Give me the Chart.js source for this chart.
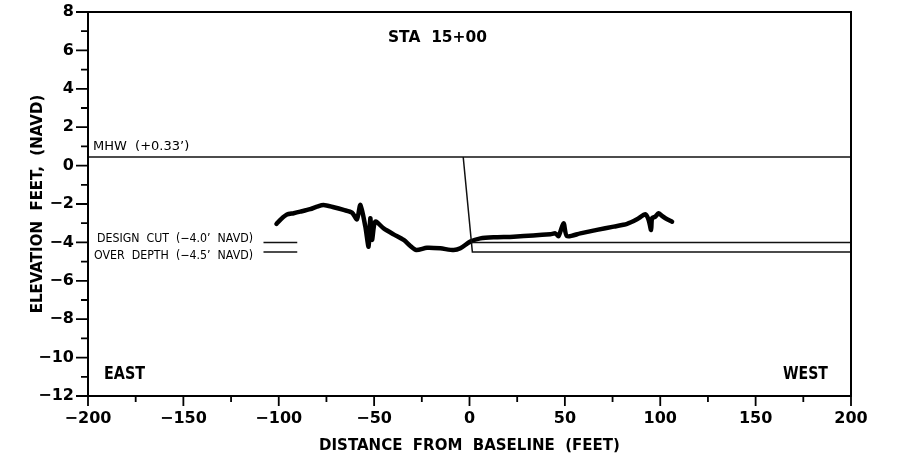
<!DOCTYPE html>
<html lang="en">
<head>
<meta charset="UTF-8" />
<title>STA 15+00 Profile</title>
<style>
  html, body { margin: 0; padding: 0; background: #fff; }
  .wrap { width: 902px; height: 461px; }
</style>
</head>
<body>
<div class="wrap"><canvas id="profileChart" width="902" height="461"></canvas></div>

<script src="https://cdn.jsdelivr.net/npm/chart.js"></script>
<script>
  // Surveyed profile (distance from baseline, elevation ft NAVD)
  const profileX = [-101.2, -98.8, -95.7, -92.2, -88.7, -83.5, -80, -76.5, -71.2, -66, -61.6, -59, -57.2, -54.6, -52.9, -52, -51.1, -49.4, -45, -39.8, -34.5, -31, -27.9, -22.3, -15.3, -8.3, -4.8, 0.4, 5.7, 12.6, 23.1, 42.4, 45, 46.7, 49.3, 51.1, 58.1, 66.8, 75.6, 82.6, 87.8, 92.2, 93.9, 95.2, 95.7, 97.4, 99.1, 100.9, 102.7, 106.2];
  const profileY = [-3.04, -2.79, -2.55, -2.48, -2.40, -2.27, -2.14, -2.05, -2.17, -2.31, -2.45, -2.80, -2.05, -3.18, -4.22, -2.74, -3.87, -2.92, -3.27, -3.58, -3.87, -4.19, -4.40, -4.28, -4.31, -4.40, -4.31, -3.96, -3.79, -3.73, -3.70, -3.58, -3.53, -3.67, -3.00, -3.67, -3.53, -3.35, -3.18, -3.04, -2.80, -2.54, -2.83, -3.35, -2.74, -2.66, -2.48, -2.62, -2.74, -2.92];

  // MHW line
  const mhwX = [-200, 200];
  const mhwY = [0.45, 0.45];

  // dredge template: side slope then over depth
  const templateX = [-3.3, 1.5, 200];
  const templateY = [0.45, -4.5, -4.5];
  const designCutX = [1.0, 200];
  const designCutY = [-4.0, -4.0];

  // legend stubs beside the labels
  const stubX = [-108, -90.3];
  const designStubY = [-4.0, -4.0];
  const overStubY = [-4.5, -4.5];

  // axes
  const xMin = -200, xMax = 200, xStep = 25, xLabelStep = 50;
  const yMin = -12, yMax = 8, yStep = 1, yLabelStep = 2;

  const pts = (xs, ys) => xs.map((x, i) => ({ x: x, y: ys[i] }));
  const minus = v => String(v).replace('-', '\u2212');

  const thin = { borderColor: '#111', borderWidth: 1.5, pointRadius: 0, showLine: true, fill: false };

  // texts drawn on the canvas
  const notes = [
    { text: 'STA  15+00', x: 388, y: 38, w: 99, font: 'bold 16px "DejaVu Sans"' },
    { text: 'MHW  (+0.33\u2019)', x: 93, y: 147, w: 103, font: '13px "DejaVu Sans"' },
    { text: 'DESIGN  CUT  (\u22124.0\u2019  NAVD)', x: 97, y: 238.5, w: 156, font: '12px "DejaVu Sans"' },
    { text: 'OVER  DEPTH  (\u22124.5\u2019  NAVD)', x: 94, y: 256, w: 159, font: '12px "DejaVu Sans"' },
    { text: 'EAST', x: 104, y: 375, w: 41, font: 'bold 17px "DejaVu Sans"' },
    { text: 'WEST', x: 783, y: 375, w: 45, font: 'bold 17px "DejaVu Sans"' }
  ];

  const framePlugin = {
    id: 'frame',
    afterDraw(chart) {
      const { ctx, chartArea: a, scales } = chart;
      ctx.save();
      ctx.strokeStyle = '#000';
      ctx.lineWidth = 2;
      ctx.strokeRect(a.left, a.top, a.right - a.left, a.bottom - a.top);
      // tick marks, major longer than minor
      ctx.lineWidth = 1.8;
      ctx.beginPath();
      scales.x.ticks.forEach(t => {
        const px = scales.x.getPixelForValue(t.value);
        const len = t.value % xLabelStep === 0 ? 10 : 6;
        ctx.moveTo(px, a.bottom);
        ctx.lineTo(px, a.bottom + len);
      });
      scales.y.ticks.forEach(t => {
        const py = scales.y.getPixelForValue(t.value);
        const len = t.value % yLabelStep === 0 ? 12 : 7;
        ctx.moveTo(a.left, py);
        ctx.lineTo(a.left - len, py);
      });
      ctx.stroke();
      // annotations
      ctx.fillStyle = '#000';
      ctx.textBaseline = 'middle';
      ctx.textAlign = 'left';
      notes.forEach(n => {
        ctx.font = n.font;
        ctx.fillText(n.text, n.x, n.y, n.w);
      });
      ctx.restore();
    }
  };

  const ctx = document.getElementById('profileChart').getContext('2d');
  new Chart(ctx, {
    type: 'scatter',
    data: {
      datasets: [
        Object.assign({ data: pts(mhwX, mhwY) }, thin),
        Object.assign({ data: pts(templateX, templateY) }, thin),
        Object.assign({ data: pts(designCutX, designCutY) }, thin),
        Object.assign({ data: pts(stubX, designStubY) }, thin),
        Object.assign({ data: pts(stubX, overStubY) }, thin),
        {
          data: pts(profileX, profileY),
          showLine: true,
          borderColor: '#000',
          borderWidth: 4.5,
          borderCapStyle: 'round',
          borderJoinStyle: 'round',
          tension: 0.25,
          pointRadius: 0,
          fill: false
        }
      ]
    },
    options: {
      responsive: false,
      animation: false,
      events: [],
      layout: { padding: { top: 12, right: 51, bottom: 0, left: 0 } },
      plugins: { legend: { display: false }, tooltip: { enabled: false } },
      scales: {
        x: {
          type: 'linear',
          min: xMin, max: xMax,
          afterFit: s => { s.height = 65; s.paddingLeft = 0; s.paddingRight = 0; },
          grid: { display: false, drawTicks: false },
          border: { display: false },
          ticks: {
            stepSize: xStep, autoSkip: false, maxRotation: 0, padding: 13,
            color: '#000', font: { family: 'DejaVu Sans', weight: 'bold', size: 16 },
            callback: v => v % xLabelStep === 0 ? minus(v) : ''
          },
          title: {
            display: true, text: 'DISTANCE  FROM  BASELINE  (FEET)', color: '#000',
            font: { family: 'DejaVu Sans', weight: 'bold', size: 15 },
            padding: { top: 0, bottom: 6 }
          }
        },
        y: {
          type: 'linear',
          min: yMin, max: yMax,
          afterFit: s => { s.width = 88; s.paddingTop = 0; s.paddingBottom = 0; },
          grid: { display: false, drawTicks: false },
          border: { display: false },
          ticks: {
            stepSize: yStep, autoSkip: false, padding: 14,
            color: '#000', font: { family: 'DejaVu Sans', weight: 'bold', size: 16 },
            callback: v => v % yLabelStep === 0 ? minus(v) : ''
          },
          title: {
            display: true, text: 'ELEVATION  FEET,  (NAVD)', color: '#000',
            font: { family: 'DejaVu Sans', weight: 'bold', size: 15 },
            padding: { top: 29, bottom: 0 }
          }
        }
      }
    },
    plugins: [framePlugin]
  });
</script>
</body>
</html>
